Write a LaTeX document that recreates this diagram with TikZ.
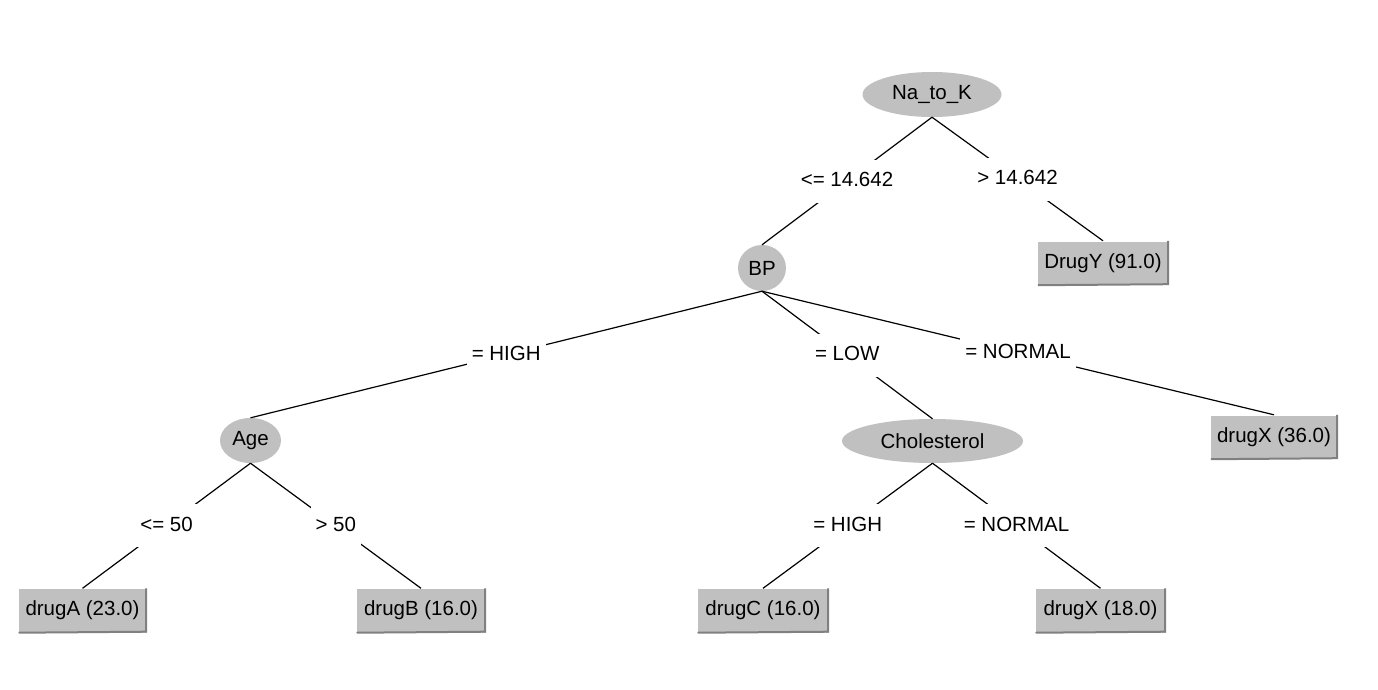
\documentclass[tikz,border=0pt]{standalone}
\usepackage{fontspec}
\setmainfont{Liberation Sans}
\usetikzlibrary{shapes.geometric}
\definecolor{wekagray}{RGB}{192,192,192}
\definecolor{wekadark}{RGB}{128,128,128}
\tikzset{
  inode/.style={ellipse, fill=wekagray, inner sep=0pt, font=\fontsize{20.5}{24}\selectfont},
  leaf/.style={rectangle, fill=wekagray, inner sep=0pt, minimum height=44pt, font=\fontsize{20.5}{24}\selectfont},
  lbl/.style={fill=white, inner xsep=5pt, inner ysep=12pt, text height=15pt, text depth=4pt, font=\fontsize{20.5}{24}\selectfont},
  edge/.style={draw=black, line width=1.2pt},
}
\begin{document}
\begin{tikzpicture}[x=1pt,y=-1pt]
\useasboundingbox[fill=white] (0,0) rectangle (1378,689);
% internal nodes
\node[inode, minimum width=139pt, minimum height=45pt] (nak) at (932,94.5) {Na\_to\_K};
\node[inode, minimum width=48pt, minimum height=46pt] (bp) at (762,268) {BP};
\node[inode, minimum width=61pt, minimum height=45pt] (age) at (250.5,440.5) {Age};
\node[inode, minimum width=181pt, minimum height=44pt] (chol) at (932.5,441) {Cholesterol};
% leaves
\node[leaf, minimum width=132pt] (drugy) at (1103,263) {DrugY (91.0)};
\node[leaf, minimum width=128pt] (drugx1) at (1274,437) {drugX (36.0)};
\node[leaf, minimum width=129pt] (druga) at (82.5,610.5) {drugA (23.0)};
\node[leaf, minimum width=130pt] (drugb) at (421,610.5) {drugB (16.0)};
\node[leaf, minimum width=132pt] (drugc) at (763,610.5) {drugC (16.0)};
\node[leaf, minimum width=131pt] (drugx2) at (1100.5,610.5) {drugX (18.0)};
% raised borders of leaves
\foreach \n in {drugy,drugx1,druga,drugb,drugc,drugx2}{
  \draw[white, line width=1pt] ([xshift=0.5pt,yshift=0.5pt]\n.south west) -- ([xshift=0.5pt,yshift=-0.5pt]\n.north west) -- ([xshift=-0.5pt,yshift=-0.5pt]\n.north east);
  \draw[wekadark, line width=2pt] ([xshift=1pt]\n.south west) -- ([xshift=-1pt,yshift=1pt]\n.south east) -- ([xshift=-1pt]\n.north east);
}
% edges with labels
\draw[edge] (nak.south) -- node[lbl]{<= 14.642} (bp.north);
\draw[edge] (nak.south) -- node[lbl]{> 14.642} (drugy.north);
\draw[edge] (bp.south) -- node[lbl]{= HIGH} (age.north);
\draw[edge] (bp.south) -- node[lbl]{= LOW} (chol.north);
\draw[edge] (bp.south) -- node[lbl]{= NORMAL} (drugx1.north);
\draw[edge] (age.south) -- node[lbl]{<= 50} (druga.north);
\draw[edge] (age.south) -- node[lbl]{> 50} (drugb.north);
\draw[edge] (chol.south) -- node[lbl]{= HIGH} (drugc.north);
\draw[edge] (chol.south) -- node[lbl]{= NORMAL} (drugx2.north);
\end{tikzpicture}
\end{document}
